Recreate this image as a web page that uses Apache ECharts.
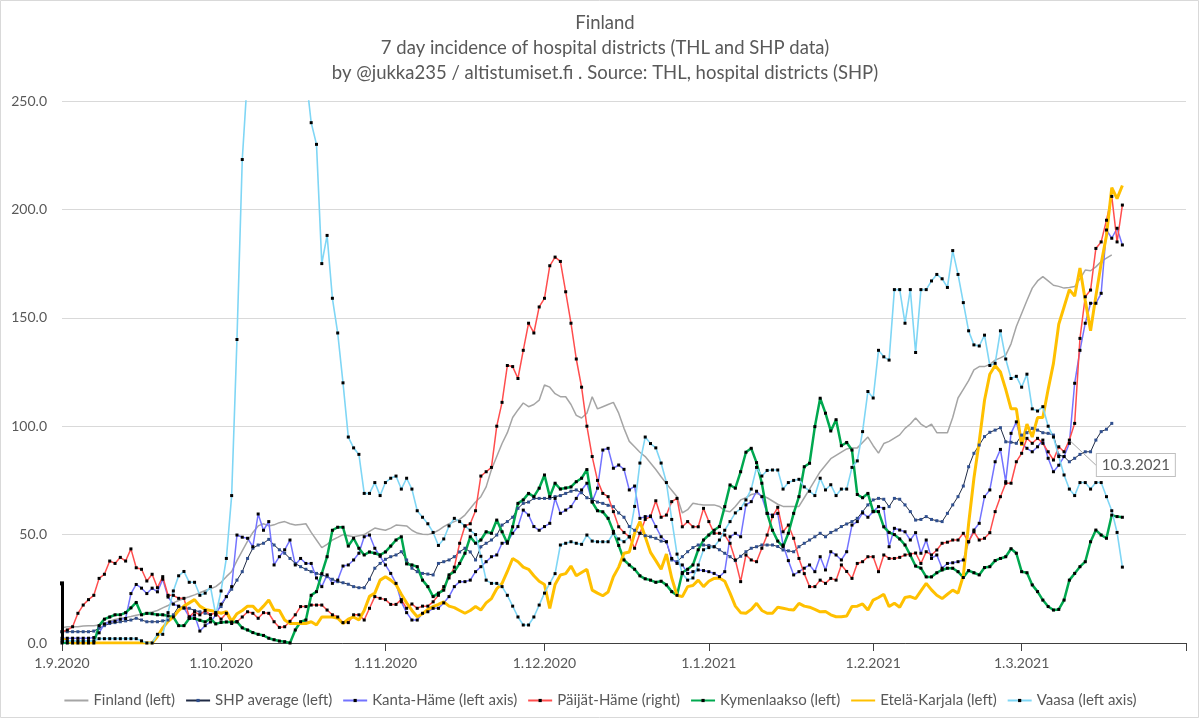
<!DOCTYPE html>
<html><head><meta charset="utf-8">
<script src="https://cdn.jsdelivr.net/npm/echarts@6/dist/echarts.min.js"></script>
<style>html,body{margin:0;padding:0;background:#fff}#chart{width:1200px;height:719px}</style>
</head><body><div id="chart"></div>
<script>
// Daily categories 1.9.2020 .. 1.4.2021
const categories = [];
for (let i = 0; i < 213; i++) {
  const d = new Date(Date.UTC(2020, 8, 1 + i));
  categories.push(d.getUTCDate() + '.' + (d.getUTCMonth() + 1) + '.' + d.getUTCFullYear());
}
const yTicks = [0, 50, 100, 150, 200, 250];

const finland = [
7,7.5,7.5,7.5,7.8,8,8,8.3,9,10,
10.8,11.3,11.8,12.2,12.8,13.3,13.8,14.3,15,16.2,
17.3,18.5,19.6,20.5,21.3,22.2,23.2,24.2,25,26,
28,30.6,33,38,42.5,47,51,54,55,54,
54.5,55.5,56,55,54.4,54.7,55,51,47.5,44,
45.5,47.5,48.7,50,49.5,49,49.5,50,51.5,53,
52.5,52,53,54.4,54.2,54,52,50.7,50.2,50,
50.7,52,53.7,55,56,57,59,62,65,67.5,
72,80,86,92,97,104,107.5,110.7,109,110,
112,119,118,115,113.6,113.6,110,105,103.8,106,
113.6,108,109,110,111,106,99,93,90.5,88,
86,83,80,76.7,73.5,70.5,67.5,60,61.5,64.5,
64,63.7,63.7,63.7,63,61,60.5,63,66,67,
68.5,69,68,67,65.5,64,63,63,63,63,
67,71,75,79,82,85,86.5,88,89.5,90,
90,92.5,95,91,87.6,92,93,94.5,96,99,
101,103.8,101,99.5,101,97,97,97,104,113,
117,121,126,127.5,127.5,128.5,130.5,131.5,132.8,138,
146,152,158,163.7,167,169,167,165,164.5,163.7,
164,164.4,168,172,171.7,173.5,176,177.5,179];

const shpAverage = [
5.2,5.2,5.2,5.2,5.2,5.2,5.5,6.8,8,9,
9.4,9.8,10.2,10.6,11.4,10.6,9.8,9.8,9.8,10.2,
10.6,13,16.8,16,16,15,14.4,13.7,13,14,
16.8,21.4,24.8,29,32.9,39,43.7,45.2,46,47.8,
45.2,43,41.4,39,36.7,35.2,34,32.9,32.1,31.4,
30.6,29.4,28.3,27.8,27.1,26,25.5,25.5,29.4,34.5,
36.7,38.6,39.8,40.6,42.1,38.3,34.5,32.9,32.1,31.8,
31.4,36.7,37.5,38.3,39.8,42,43.7,42,38.3,44.4,
46,47.5,49.8,54.4,56,58,62.1,64.4,65,66.7,
66.7,66.7,66.7,67.5,68,69,70,70.6,69.3,67,
66.3,65,64.4,63.5,62.9,60,58,53.7,52,50.6,
49.5,49,48.3,47,46.7,38.3,37.5,39.8,42.1,44,
45.2,45.2,45,44.4,43,41.4,39.8,38,40,42.1,
43.7,44.4,45.2,45.2,45.2,44.5,42.9,42.5,42.1,44.4,
46,47.5,49,50.6,49,51,52.1,53.7,54.9,56,
57.5,60.6,63.7,66,66.7,66.3,62.9,66.7,66.3,63.7,
60.6,56.7,57,58.3,57,56.4,56,59.8,63.7,67.5,
72.4,81.3,87.5,91.3,95.2,97.2,98.2,99.3,92.8,92.6,
92.1,95.9,97,99,98.2,97,96.7,95.9,86.7,86,
83.6,85.2,87,88.2,88.2,93.6,97.5,98.6,101.3];

const kantaHame = [
2.2,2.2,2.2,2.2,2.2,2.2,2.5,4.7,8.8,9.7,
10,11,11.3,22.8,27,25.3,22.8,25.3,23.6,29.4,
21.2,17.9,17,16.2,12,12.9,5.5,8,9.7,12.9,
17.9,21.4,26,49.8,48.8,48.3,44.4,59.5,52,56,
36,39.8,43,47.5,36,39,36.7,36.7,30,26,
31.4,27.5,29,35.5,36,38.3,41.4,49,49.8,43.7,
40,36,32.1,27.5,19,14,10.6,10.6,13.7,14.4,
16,16,18.5,21.4,26,28.3,28.3,29,32.9,35.2,
37.5,39.8,40.6,46,46.7,50.6,53.7,61.3,59,53.7,
52,53.7,55.2,66.7,59.8,61.3,62.9,66.7,70.6,73.7,
65.2,71.4,89,89.8,80.6,82.1,80.1,70.6,72.4,57.5,
58.3,58.6,53.7,49,46.7,39,36.7,36,32.1,32.9,
33.7,33.4,32.9,32.1,30.6,32.9,49,50.6,49,63.7,
65.2,70,67.5,59.8,59,59.8,45.2,38,31.4,32.9,
34.5,36,32.9,39.8,33.7,42.1,40.6,38.3,42.1,54.4,
56,60,58,60.6,62.9,62.1,44.4,52.9,52.1,51.3,
47.5,50.9,41.4,47.5,39,40.6,34.5,36.7,37,37.5,
38.3,46.7,52.1,55.2,67.5,70.6,83.6,89.3,74.4,96.7,
102,92.1,89.8,88.2,90.5,93.6,85.2,79,82,86,
92.1,119.8,135,147.5,156.7,156.7,161.3,190.5,186.7,191.3,183.6];

const paijatHame = [
5.2,6,7.5,13.7,17.5,20,22,29.8,31.7,37.8,
36.7,39.5,37.8,43.4,34.7,34,28.6,31.7,25.5,30.6,
22,22,20.6,20.6,12,14.4,13,15,13,14,
11,13.7,9,9.8,12,14.4,13.7,11.4,14,13.7,
9.8,7.2,7.5,10,13,16.8,16.8,17.5,17.5,17.5,
15.2,13,12,9.4,9.4,13,13,10.6,16,21.4,
20.6,20,17.8,17.8,20,16,18,16,17,17,
19,22,26,30,35,46,54,55,61,77,
79,81,100,111,128,127.5,122,135,147.5,143,
155,159,174,178,176,162,147.5,131,118,100,
86,75,69,67.5,60.6,53.6,51,49,43.7,50.6,
57,58.3,65.6,58,59,65.2,66.7,53.6,56,53.6,
53.6,62.1,56,50.6,50.6,49.8,46,38.3,28.3,40.6,
38.3,37.5,43.7,49.8,58.3,62.6,51.3,54.4,48.3,39,
32,26,26,29,27.5,29.8,29,36,33,29.8,
36.7,37.5,39.8,39.8,32.9,40.6,39,39,39.5,40.6,
41,41.5,36.7,42.1,40.6,42.9,46,46.5,47.5,47.5,
50.6,46.7,51.3,47.5,48.3,50.9,60.6,67.5,73.7,73.7,
83.6,87.5,94.4,92.1,94.4,92.1,88.2,84.4,90.5,88.2,
93.6,101.3,140.5,159.7,162.8,182,185,195,206,185,202];

const kymenlaakso = [
0,0,0,0,0,0,0,8,11,12,
13,13,14,16.2,18.7,13,13.7,13.5,13,13,
12.5,12,8,8,11.3,11.3,10.5,9.7,11.3,8.8,
9.5,9.7,9.7,9.8,7,6,4.8,4,3.5,2.2,
1.5,0.9,0.6,0,6,9.8,10.6,22,23.7,32,
39.8,52,53.4,53.4,44.7,48.3,43.7,40.6,42,41.4,
40.6,42,44.7,47.5,49,36.5,36,35.2,29,26,
21.4,23,24.4,31.4,32.9,36.7,41.4,49,46,47.5,
51.3,50.6,56.7,51.3,46,53.6,64.4,66,69,67.5,
71.4,77.5,67.5,73.7,71,71.5,72,74.4,76,80,
65,61,60.5,57.5,51.5,45,38.3,36,34,31,
29.6,29,28,28.5,26.8,23.7,22,32.5,34,36,
43,47.5,49.8,52,53.7,62.9,72.9,71.4,79,88,
89.8,83.2,73.7,59.8,52,47,44.4,50.6,59.8,67.5,
81.3,82.9,99.8,112.9,106,97.8,103,91,92.5,89,
68.5,67,69,60.6,60.6,53.6,51,50,48,45.2,
40.5,35.5,34.5,30.5,30.5,32.4,33.7,34.5,34.5,32.9,
30.2,33.4,32.4,31.4,34.8,35.2,38,39,39.8,43.5,
41.4,32.9,32.4,26.8,23.7,19.8,16.8,15.2,15.5,19.8,
29,32.1,35.2,37.5,46.7,52.1,49.8,48.3,59,58.3,58];

const etelaKarjala = [
2,1,0,0,0,0,0,0,0,0,
0,0,0,0,0,0,0,0,3,7,
10,12,15,17,18.5,20,17,15.5,15,14.5,
13.7,14.5,10,13.5,15,17,17,14.4,17,19.8,
15.2,15,10.6,9,9,9,9,9.8,8.3,12,
12,12,11.4,9,11,12,10.6,15,21.5,23,
29,30.6,29,27,22.5,18.5,15,12.1,13.5,15.5,
16.8,17.8,19,17,16.3,15,13.7,15,16.8,15.2,
18.5,20.5,25,27.5,33,39,37.5,35,34,31,
28.5,27,16,27,31.4,32,35.5,31,32.5,34,
24.4,23,21.8,23.5,30.6,35,41.4,42,50.6,56,
49,41.8,38,34,41,30,22,21.4,26,26.5,
29,26,28.5,29.8,30,28.5,23,17,14,13.7,
15.5,18.3,15,13.7,13.7,16.5,16,15.5,15.2,18.3,
17,16.5,15.5,14.4,14.5,13,12.1,12.1,12.5,16.8,
17,18,15.2,19.8,21,22.5,16.8,18.3,16.5,21,
21.4,20.5,24,27.5,24.5,22,20.5,22.5,24.4,23,
31,55,76,93,112,124,128,125,117,108,
108,91,101,95,104,104,117,129,147,155,
163,160,173,158,144,160,175,188,210,205,211];

const vaasa = [
1,1,1,1,1,1,1,2,2,2,
2,2,2,2,2,1,0,0,4,4,
14,24,31,33,28,28,22,23,26,13,
24,39,68,140,223,262,290,310,320,330,
335,330,320,310,300,285,262,240,230,175,
188,159,143,120,95,90,87,69,69,74,
68,74,76,77,71,76,71,61,58,55,
51,45,48,54,57.5,56,54,52,50,40,
29,27.5,27.5,26,22,17,12,8.3,8.3,12,
17.5,23,27.5,32,45.2,46,46.7,46,45.5,49.8,
47,46.7,46.7,46.7,50.6,48,46.7,49,63,83,
95,92,90,83,74,57,41,32,29,30,
36,43,44,44.4,47.5,52,56,60,62,66,
71,81,77,79.6,79.8,79.8,71,74,75,75.5,
72,70,68,76,70.6,73,68,71,71,81,
84,97.5,116,113,135,132,130.5,163,163,147.5,
163,134,163,163,167,170,168,164,181,170,
157,144,137.5,137,142,128,129,144,131,122,
123,118,124,108,107,109,100,95,86,77.5,
71,68,74,74,71,74,74,67.5,61,51,35];

const firstDayBarValue = 27.5;
const annotationIndex = 190;
const annotationText = '10.3.2021';

const FONT = 'Lato, "Noto Sans", sans-serif';
const TXT = '#595959';

function mk(name, data, color, width, opts) {
  return Object.assign({
    name: name, type: 'line', data: data,
    showAllSymbol: true,
    symbol: 'rect', symbolSize: 3,
    lineStyle: { color: color, width: width },
    itemStyle: { color: '#000' },
    emphasis: { disabled: true },
    z: 2
  }, opts || {});
}

const isMonthStart = (i, v) => String(v).indexOf('1.') === 0;
const hiddenMarker = { color: 'rgba(0,0,0,0)', opacity: 0, borderWidth: 0 };

const chart = echarts.init(document.getElementById('chart'));
chart.setOption({
  animation: false,
  backgroundColor: '#fff',
  textStyle: { fontFamily: FONT },
  title: {
    text: 'Finland\n7 day incidence of hospital districts (THL and SHP data)\nby @jukka235 / altistumiset.fi . Source: THL, hospital districts (SHP)',
    left: 600, top: 6, textAlign: 'center',
    textStyle: { fontFamily: FONT, fontSize: 18.5, fontWeight: 'normal', color: TXT, lineHeight: 25, align: 'center' }
  },
  graphic: [{
    type: 'rect', shape: { x: 0.5, y: 0.5, width: 1198, height: 717 },
    style: { fill: 'none', stroke: '#D9D9D9', lineWidth: 1 }, silent: true, z: -1
  }],
  legend: {
    top: 688, left: 'center',
    itemWidth: 24, itemHeight: 4, itemGap: 10,
    textStyle: { fontFamily: FONT, fontSize: 15, color: TXT },
    data: [
      { name: 'Finland (left)', itemStyle: hiddenMarker },
      'SHP average (left)', 'Kanta-Häme (left axis)', 'Päijät-Häme (right)', 'Kymenlaakso (left)',
      { name: 'Etelä-Karjala (left)', itemStyle: hiddenMarker },
      'Vaasa (left axis)'
    ]
  },
  grid: { left: 62, right: 14, top: 101, bottom: 76 },
  xAxis: {
    type: 'category', data: categories, boundaryGap: false,
    axisLine: { lineStyle: { color: '#404040', width: 1 } },
    axisTick: { show: true, interval: isMonthStart, length: 8, lineStyle: { color: '#404040' } },
    axisLabel: {
      interval: (i, v) => isMonthStart(i, v) && i < categories.length - 1,
      color: TXT, fontSize: 14, fontFamily: FONT, margin: 13
    },
    splitLine: { show: false }
  },
  yAxis: {
    type: 'value', min: yTicks[0], max: yTicks[yTicks.length - 1], interval: yTicks[1] - yTicks[0],
    axisLine: { show: false }, axisTick: { show: false },
    axisLabel: { formatter: v => v.toFixed(1), color: TXT, fontSize: 14, fontFamily: FONT, margin: 15 },
    splitLine: { lineStyle: { color: '#D9D9D9', width: 1 } }
  },
  series: [
    mk('Finland (left)', finland, '#A5A5A5', 1.5, { symbol: 'none' }),
    mk('SHP average (left)', shpAverage, '#1F2A44', 1, {
      itemStyle: { color: '#2F4F8F' }, symbolSize: 3,
      markLine: {
        silent: true, symbol: ['none', 'rect'], symbolSize: 4,
        lineStyle: { color: '#000', width: 3, type: 'solid' },
        label: { show: false },
        data: [[{ coord: [categories[0], 0] }, { coord: [categories[0], firstDayBarValue] }]]
      }
    }),
    mk('Kanta-Häme (left axis)', kantaHame, '#7373FF', 1.5),
    mk('Päijät-Häme (right)', paijatHame.map((v, i) => i === annotationIndex ? {
      value: v,
      label: {
        show: true, formatter: annotationText, position: 'right', distance: 4,
        color: TXT, fontSize: 15, fontFamily: FONT,
        backgroundColor: '#fff', borderColor: '#BFBFBF', borderWidth: 1, padding: [4, 5, 3, 5]
      }
    } : v), '#FF4D4D', 1.5, {
      labelLine: { show: true, lineStyle: { color: '#A6A6A6', width: 1 } },
      labelLayout: { dx: 22, dy: 25 }
    }),
    mk('Kymenlaakso (left)', kymenlaakso, '#00A84F', 2.5),
    mk('Etelä-Karjala (left)', etelaKarjala, '#FFC000', 3, { symbol: 'none' }),
    mk('Vaasa (left axis)', vaasa, '#7FD6F5', 1.6)
  ]
});
</script></body></html>
